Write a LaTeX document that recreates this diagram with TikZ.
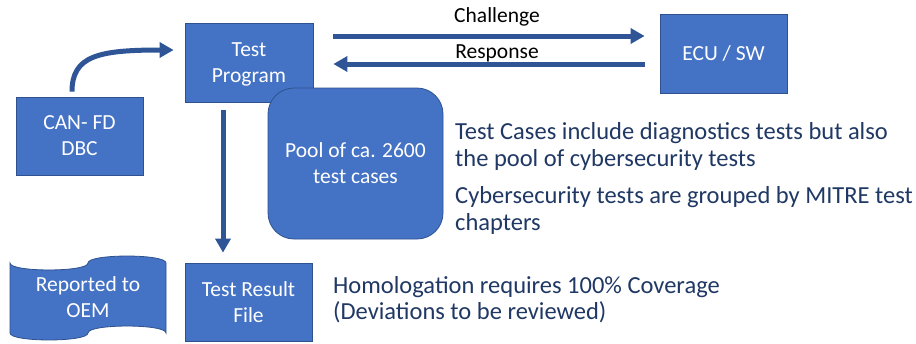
\documentclass[tikz,border=0pt]{standalone}
\usepackage{fontspec}
\setmainfont{Carlito}
\usetikzlibrary{arrows.meta,calc}
\definecolor{boxfill}{HTML}{4472C4}
\definecolor{boxline}{HTML}{2F528F}
\definecolor{arrowc}{HTML}{2F5597}
\definecolor{bodytext}{HTML}{203864}
\tikzset{
  box/.style={draw=boxline, line width=0.8pt, fill=boxfill, text=white, align=center,
    inner sep=0pt, text depth=0pt, font=\fontsize{21.5}{26}\selectfont},
  flow/.style={draw=arrowc, line width=5pt, -{Triangle[length=14pt,width=15pt]}},
  caption/.style={anchor=base, font=\fontsize{21.5}{24}\selectfont, text=black, inner sep=0pt},
  bodynote/.style={anchor=base west, align=left, text=bodytext, inner sep=0pt,
    font=\fontsize{24.5}{27}\selectfont},
}
\begin{document}
\begin{tikzpicture}[x=1pt, y={(0pt,-1pt)}]
\useasboundingbox (0,0) rectangle (916,343);
\fill[white] (0,0) rectangle (916,343);

% main blocks
\node[box, minimum width=128pt, minimum height=79pt] (tp) at (249,62.5) {Test\\Program};
\node[box, minimum width=127pt, minimum height=78pt] (can) at (79.5,136) {CAN- FD\\DBC};
\node[box, minimum width=127pt, minimum height=79pt] (ecu) at (723.5,53.5) {ECU / SW};
\node[box, minimum width=127pt, minimum height=78pt] (trf) at (248.5,302) {Test Result\\File};
\node[box, rounded corners=26pt, minimum width=175pt, minimum height=151pt] (pool) at (355.5,163.5)
  {Pool of ca. 2600\\test cases};

% punched tape for the report
\draw[boxline, line width=0.8pt, fill=boxfill]
  (10,263) .. controls (10,272.3) and (88,272.3) .. (88,263)
  .. controls (88,253.7) and (166,253.7) .. (166,263)
  -- (166,333) .. controls (166,323.7) and (88,323.7) .. (88,333)
  .. controls (88,342.3) and (10,342.3) .. (10,333) -- cycle;
\node[box, draw=none, fill=none] (oem) at (88,297) {Reported to\\OEM};

% connectors
\coordinate (chA) at ($(tp.east)+(20,-26.5)$);
\coordinate (chB) at ($(ecu.west)+(-15,-17.5)$);
\coordinate (rsA) at ($(ecu.west)+(-15,10.5)$);
\coordinate (rsB) at ($(tp.east)+(20,1.5)$);
\draw[flow] (chA) -- (chB);
\draw[flow] (rsA) -- (rsB);
\node[caption] (chl) at (497,22) {Challenge};
\node[caption] (rsl) at (497,58) {Response};

\draw[flow] ($(can.north)+(-7.5,-5)$) .. controls (72,56) and (98,50) .. ($(tp.west)+(-11,-12.5)$);
\draw[flow] ($(tp.south)+(-26,8)$) -- ($(trf.north)+(-25.5,-10)$);

% notes (anchored at the baseline of their last line)
\node[bodynote] (n1) at (455,166) {Test Cases include diagnostics tests but also\\the pool of cybersecurity tests};
\node[bodynote] (n2) at (455,230) {Cybersecurity tests are grouped by MITRE test\\chapters};
\node[bodynote, font=\fontsize{24.5}{26}\selectfont] (n3) at (333,319) {Homologation requires 100\% Coverage\\(Deviations to be reviewed)};
\end{tikzpicture}
\end{document}
